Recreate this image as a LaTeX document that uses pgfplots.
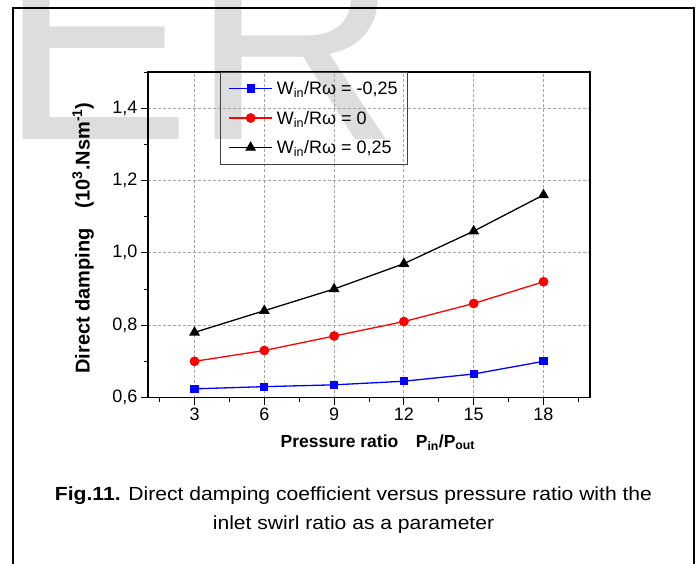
\documentclass[border=0pt]{standalone}
\usepackage{pgfplots}
\pgfplotsset{compat=1.18}
\usepackage{fontspec}
\setmainfont{Liberation Sans}
\newfontfamily\capfont[FakeStretch=1.11]{Liberation Sans}
\definecolor{wm}{RGB}{221,221,221}
\definecolor{gridc}{RGB}{165,165,165}
\begin{document}
\begin{tikzpicture}[x=1pt,y=1pt]
\useasboundingbox (0,0) rectangle (699,-564);
\node[anchor=base west, inner sep=0pt, text=wm, font=\fontsize{288}{288}\selectfont] at (-1,-140) {ER};
\draw[line width=1.8pt] (13,-600) -- (13,-8) -- (694,-8) -- (694,-600);
\begin{axis}[
  scale only axis, width=442pt, height=325.5pt,
  at={(148pt,-397.5pt)}, anchor=south west,
  xmin=1, xmax=20, ymin=0.6, ymax=1.5,
  xtick={3,6,...,18}, ytick={0.6,0.8,...,1.41},
  minor xtick={1.5,4.5,...,19.5}, minor ytick={0.7,0.9,...,1.51},
  tick align=outside, tick pos=left,
  major tick length=7pt, minor tick length=4pt,
  grid=major,
  major grid style={gridc, line width=0.8pt, dash pattern=on 3pt off 2pt},
  axis line style={line width=1.2pt},
  every tick/.style={black, line width=1pt},
  tick label style={font=\fontsize{18}{20}\selectfont},
  /pgf/number format/assume math mode=true,
  yticklabel style={/pgf/number format/.cd, fixed, fixed zerofill, precision=1, use comma},
  xlabel={\textbf{Pressure ratio\quad P\textsubscript{in}/P\textsubscript{out}}},
  ylabel={\textbf{Direct damping\quad(10\textsuperscript{3}.Nsm\textsuperscript{-1})}},
  xlabel style={font=\fontsize{17.5}{20}\selectfont, at={(axis description cs:0.52,-0.153)}, anchor=base},
  ylabel style={font=\fontsize{20}{22}\selectfont, at={(axis description cs:-0.147,0.49)}, anchor=center},
  legend style={at={(0.1629,1.0015)}, anchor=north west, draw=black!75, line width=1pt, fill=none,
    font=\fontsize{18}{20}\selectfont, inner xsep=8pt, inner ysep=6.5pt, row sep=9.5pt, column sep=2pt,
    nodes={inner sep=2pt, text height=14pt, text depth=2pt},
    cells={anchor=west}},
  legend cell align=left,
  legend image code/.code={%
    \draw[#1, line width=1.3pt] (0pt,0pt) -- (43pt,0pt);
    \draw[#1, only marks] plot coordinates {(21.5pt,0pt)};},
]
\addplot[blue, line width=1.3pt, mark=square*, mark size=3.5pt] coordinates {(3,0.624)(6,0.630)(9,0.635)(12,0.645)(15,0.665)(18,0.700)};
\addlegendentry{W\textsubscript{in}/Rω = -0,25}
\addplot[red, line width=1.3pt, mark=*, mark size=4.2pt] coordinates {(3,0.70)(6,0.73)(9,0.77)(12,0.81)(15,0.86)(18,0.92)};
\addlegendentry{W\textsubscript{in}/Rω = 0}
\addplot[black, line width=1.3pt, mark=triangle*, mark size=5pt] coordinates {(3,0.78)(6,0.84)(9,0.90)(12,0.97)(15,1.06)(18,1.16)};
\addlegendentry{W\textsubscript{in}/Rω = 0,25}
\end{axis}
\node[anchor=base, font=\capfont\fontsize{19}{22}\selectfont] at (353.5,-500) {\textbf{Fig.11.} Direct damping coefficient versus pressure ratio with the};
\node[anchor=base, font=\capfont\fontsize{19}{22}\selectfont] at (353.5,-529) {inlet swirl ratio as a parameter};
\end{tikzpicture}
\end{document}
